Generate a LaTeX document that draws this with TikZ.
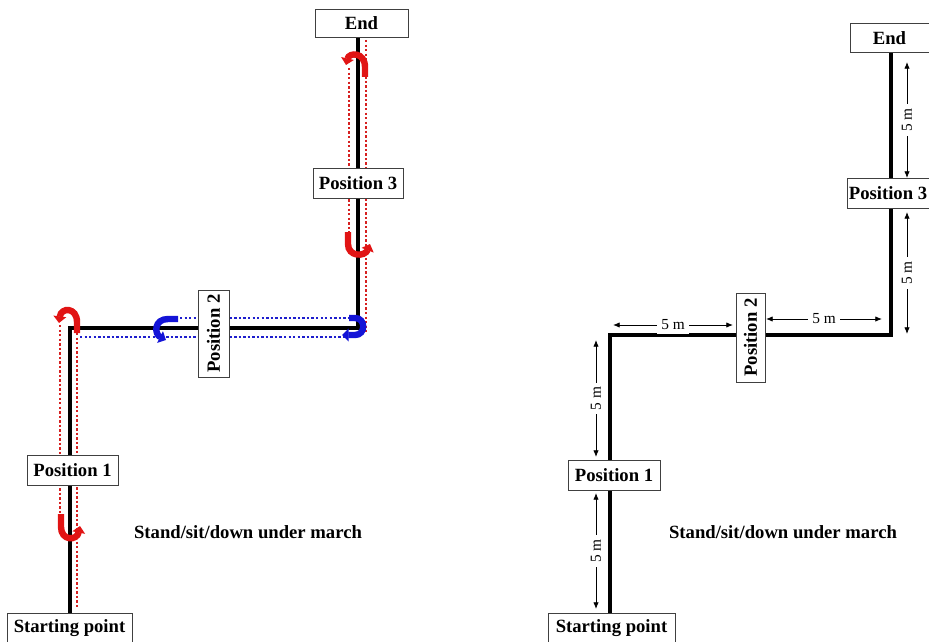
\documentclass[tikz,border=0pt]{standalone}
\usepackage{fontspec}
\setmainfont{Liberation Serif}
\usetikzlibrary{arrows.meta,backgrounds}
\definecolor{rdot}{RGB}{214,32,32}
\definecolor{bdot}{RGB}{30,30,205}
\definecolor{rturn}{RGB}{225,20,20}
\definecolor{bturn}{RGB}{20,20,215}
\tikzset{
  box/.style={draw=black!75, line width=0.75pt, fill=white, inner sep=0pt,
    font=\bfseries\fontsize{14}{16}\selectfont},
  route/.style={line width=3pt, line cap=rect},
  reddots/.style={draw=rdot, line width=2pt, dash pattern=on 1.8pt off 1.6pt},
  bluedots/.style={draw=bdot, line width=2pt, dash pattern=on 1.8pt off 1.6pt},
  redturn/.style={draw=rturn, line width=4.8pt, -{Triangle[width=9.5pt,length=5pt]}},
  blueturn/.style={draw=bturn, line width=4.8pt, -{Triangle[width=9.5pt,length=5pt]}},
  dim/.style={line width=0.6pt, {Latex[length=5pt,width=4pt]}-{Latex[length=5pt,width=4pt]}},
  dimlab/.style={fill=white, inner sep=3pt, font=\fontsize{11.5}{12}\selectfont},
  caption/.style={font=\bfseries\fontsize{14}{16}\selectfont}
}
\begin{document}
\begin{tikzpicture}[x=0.75pt,y=-0.75pt]
\useasboundingbox (0,0) rectangle (929,642);
% ---------- left diagram ----------
\node[box, minimum width=69.75pt, minimum height=21pt] (endL) at (361.5,23.5) {End};
\node[box, minimum width=67.5pt, minimum height=22.5pt] (posthreeL) at (358,183) {Position 3};
\node[box, rotate=90, minimum width=65.25pt, minimum height=23.25pt] (postwoL) at (213.5,333.5) {Position 2};
\node[box, minimum width=68.25pt, minimum height=22.5pt] (posoneL) at (72.5,470) {Position 1};
\node[box, minimum width=93.75pt, minimum height=22.5pt] (startL) at (69.5,628) {Starting point};
\node[caption] (capL) at (248,532) {Stand/sit/down under march};
\coordinate (cLa) at (70,328);
\coordinate (cLb) at (358,328);
\begin{scope}[on background layer]
  % red dotted, lower leg
  \draw[reddots] (60,325) -- (60,515);
  \draw[reddots] (77,333) -- (77,609);
  % blue dotted, horizontal leg
  \draw[bluedots] (180,318) -- (350,318);
  \draw[bluedots] (80,337) -- (345,337);
  % red dotted, upper leg
  \draw[reddots] (349,68) -- (349,232);
  \draw[reddots] (366,40) -- (366,332);
  % route
  \draw[route] (startL.north -| cLa) -- (cLa) -- (cLb) -- (cLb |- endL.south);
\end{scope}
% turning arrows
\draw[redturn] (61,514) -- (61,527) .. controls (61,541) and (77,541) .. (80,526);
\draw[redturn] (77,333) -- (77,322) .. controls (77,307) and (61,307) .. (59,323);
\draw[blueturn] (178,319) -- (168,319) .. controls (154,319) and (154,334) .. (166,340);
\draw[blueturn] (349,318) -- (355,318) .. controls (366,318) and (366,335) .. (355,335) -- (342,335);
\draw[redturn] (348,232) -- (348,244) .. controls (348,257) and (365,257) .. (370,244);
\draw[redturn] (365,77) -- (365,67) .. controls (365,52) and (349,52) .. (346,65);
% ---------- right diagram ----------
\node[box, minimum width=59.25pt, minimum height=21.75pt] (endR) at (889.5,38.5) {End};
\node[box, minimum width=61.5pt, minimum height=22.5pt] (posthreeR) at (888,193) {Position 3};
\node[box, rotate=90, minimum width=66.75pt, minimum height=21.75pt] (postwoR) at (750.5,337.5) {Position 2};
\node[box, minimum width=69pt, minimum height=22.5pt] (posoneR) at (614,475) {Position 1};
\node[box, minimum width=95.25pt, minimum height=22.5pt] (startR) at (611.5,628) {Starting point};
\node[caption] (capR) at (783,532) {Stand/sit/down under march};
\coordinate (cRa) at (610,335);
\coordinate (cRb) at (891,335);
\begin{scope}[on background layer]
  \draw[route] (startR.north -| cRa) -- (cRa) -- (cRb) -- (cRb |- endR.south);
\end{scope}
% dimension arrows
\coordinate (dha) at (613,325); \coordinate (dhb) at (733,325);
\coordinate (dhc) at (766,319); \coordinate (dhd) at (882,319);
\coordinate (dva) at (596,340); \coordinate (dvb) at (596,457);
\coordinate (dvc) at (596,493); \coordinate (dvd) at (596,609);
\coordinate (dve) at (907,62);  \coordinate (dvf) at (907,178);
\coordinate (dvg) at (907,212); \coordinate (dvh) at (907,334);
\draw[dim] (dha) -- node[dimlab] (lha) {5 m} (dhb);
\draw[dim] (dhc) -- node[dimlab] (lhb) {5 m} (dhd);
\draw[dim] (dva) -- node[dimlab, rotate=90] (lva) {5 m} (dvb);
\draw[dim] (dvc) -- node[dimlab, rotate=90] (lvb) {5 m} (dvd);
\draw[dim] (dve) -- node[dimlab, rotate=90] (lvc) {5 m} (dvf);
\draw[dim] (dvg) -- node[dimlab, rotate=90] (lvd) {5 m} (dvh);
\end{tikzpicture}
\end{document}
